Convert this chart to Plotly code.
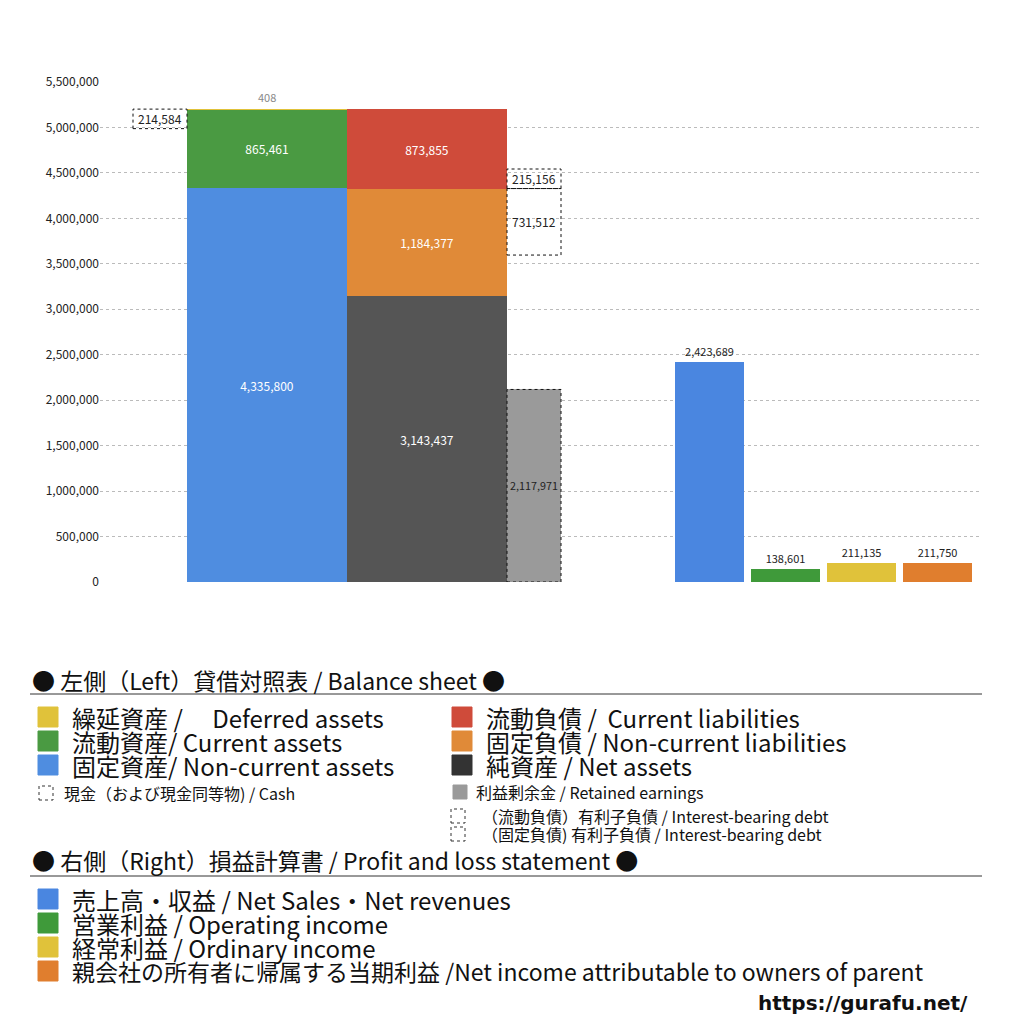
import plotly.graph_objects as go

# ---- data ----
noncurrent_assets = 4335800
current_assets = 865461
deferred_assets = 408
cash = 214584
net_assets = 3143437
noncurrent_liab = 1184377
current_liab = 873855
retained = 2117971
ibd_current = 215156
ibd_noncurrent = 731512
pl_labels = ["売上高", "営業利益", "経常利益", "当期利益"]
pl_values = [2423689, 138601, 211135, 211750]
pl_colors = ["#4a86e0", "#3f9a3a", "#e0c23a", "#e07e2e"]

FONT = "Noto Sans CJK JP"
OFF = 8  # page body margin
L, R, T, B = 100, 980, 82, 582
def px(x): return (x - L) / (R - L)
def py(y): return (B - y) / (B - T)

fig = go.Figure()
def bar(x, w, y, base, color, text, tcolor="white", pos="inside", size=12):
    fig.add_trace(go.Bar(x=[x], y=[y], base=[base], width=[w], marker=dict(color=color, line=dict(width=0)),
                         text=[text], textposition=pos, insidetextanchor="middle", textangle=0,
                         textfont=dict(color=tcolor, size=size, family=FONT), cliponaxis=False,
                         showlegend=False, hoverinfo="skip"))
f = lambda v: f"{v:,}"
bar(267, 160, noncurrent_assets, 0, "#4f8de0", f(noncurrent_assets))
bar(267, 160, current_assets, noncurrent_assets, "#4a9a42", f(current_assets))
bar(267, 160, deferred_assets, noncurrent_assets + current_assets, "#e0c23a", "")
bar(427, 160, net_assets, 0, "#555555", f(net_assets))
bar(427, 160, noncurrent_liab, net_assets, "#e08a38", f(noncurrent_liab))
bar(427, 160, current_liab, net_assets + noncurrent_liab, "#cf4b3a", f(current_liab))
bar(534, 54, retained, 0, "#9a9a9a", f(retained), tcolor="#222", size=11)
xs = [709.5, 785.5, 861.5, 937.5]
for x, v, c in zip(xs, pl_values, pl_colors):
    bar(x, 69, v, 0, c, f(v), tcolor="#222", pos="outside", size=11)

top_assets = noncurrent_assets + current_assets + deferred_assets
lb = net_assets + noncurrent_liab
shapes = []
def dbox(x0, x1, y0, y1):
    shapes.append(dict(type="rect", xref="x", yref="y", x0=x0, x1=x1, y0=y0, y1=y1,
                       line=dict(color="#111", width=1, dash="dot")))
dbox(133, 187, top_assets - cash, top_assets)
dbox(507, 561, lb, lb + ibd_current)
dbox(507, 561, lb - ibd_noncurrent, lb)
dbox(507, 561, 0, retained)
anns = []
def ta(x, y, t, size=12, color="#222"):
    anns.append(dict(xref="x", yref="y", x=x, y=y, text=t, showarrow=False,
                     font=dict(family=FONT, size=size, color=color)))
ta(160, top_assets - cash / 2, f(cash))
ta(534, lb + ibd_current / 2, f(ibd_current))
ta(534, lb - ibd_noncurrent / 2, f(ibd_noncurrent))
ta(267, top_assets + 130000, f(deferred_assets), size=11, color="#888")

def txt(x, y, t, size, color="#111", anchor="left", family=FONT):
    anns.append(dict(xref="paper", yref="paper", x=px(x), y=py(y), text=t, showarrow=False,
                     xanchor=anchor, yanchor="middle", font=dict(family=family, size=size, color=color)))
def sq(x, y, s, color, dotted=False):
    shapes.append(dict(type="rect", xref="paper", yref="paper", x0=px(x), x1=px(x + s), y0=py(y + s / 2), y1=py(y - s / 2),
                       fillcolor="white" if dotted else color,
                       line=dict(color="#333" if dotted else color, width=1, dash="dot" if dotted else "solid")))
txt(30, 680, "● 左側（Left）貸借対照表 / Balance sheet ●", 23)
shapes.append(dict(type="line", xref="paper", yref="paper", x0=px(30), x1=px(982), y0=py(694), y1=py(694), line=dict(color="#333", width=1)))
left = [("繰延資産 /　 Deferred assets", "#e0c23a"), ("流動資産/ Current assets", "#4a9a42"), ("固定資産/ Non-current assets", "#4f8de0")]
right = [("流動負債 /  Current liabilities", "#cf4b3a"), ("固定負債 / Non-current liabilities", "#e08a38"), ("純資産 / Net assets", "#333333")]
for i, (t, c) in enumerate(left):
    y = 717 + 24 * i
    sq(38, y, 20, c); txt(70, y, t, 24)
for i, (t, c) in enumerate(right):
    y = 717 + 24 * i
    sq(452, y, 20, c); txt(484, y, t, 24)
sq(39, 793, 14, "", dotted=True); txt(62, 793, "現金（および現金同等物) / Cash", 16)
sq(453, 792, 14, "#9a9a9a"); txt(474, 792, "利益剰余金 / Retained earnings", 16)
sq(451, 816, 14, "", dotted=True); txt(480, 816, "（流動負債）有利子負債 / Interest-bearing debt", 16)
sq(451, 834, 14, "", dotted=True); txt(480, 834, "（固定負債) 有利子負債 / Interest-bearing debt", 16)
txt(30, 860, "● 右側（Right）損益計算書 / Profit and loss statement ●", 23)
shapes.append(dict(type="line", xref="paper", yref="paper", x0=px(30), x1=px(982), y0=py(876), y1=py(876), line=dict(color="#333", width=1)))
pl_leg = ["売上高・収益 / Net Sales・Net revenues", "営業利益 / Operating income", "経常利益 / Ordinary income",
          "親会社の所有者に帰属する当期利益 /Net income attributable to owners of parent"]
for i, (t, c) in enumerate(zip(pl_leg, pl_colors)):
    y = 899 + 24 * i
    sq(38, y, 20, c); txt(70, y, t, 24 if i < 3 else 23)
txt(970, 1003, "<b>https://gurafu.net/</b>", 20, anchor="right", family="DejaVu Sans")

fig.update_layout(
    width=1024, height=1024, margin=dict(l=L - OFF, r=1024 - R + OFF, t=T - OFF, b=1024 - B + OFF),
    plot_bgcolor="white", paper_bgcolor="white", barmode="overlay", bargap=0,
    shapes=shapes, annotations=anns,
    xaxis=dict(range=[L, R], visible=False, fixedrange=True),
    yaxis=dict(range=[0, 5500000], dtick=500000, tickformat=",d", showgrid=True, gridcolor="#bbb",
               griddash="dot", zeroline=False, tickfont=dict(family=FONT, size=12, color="#222"), ticks=""),
    font=dict(family=FONT),
)
fig.write_html("out.html")
